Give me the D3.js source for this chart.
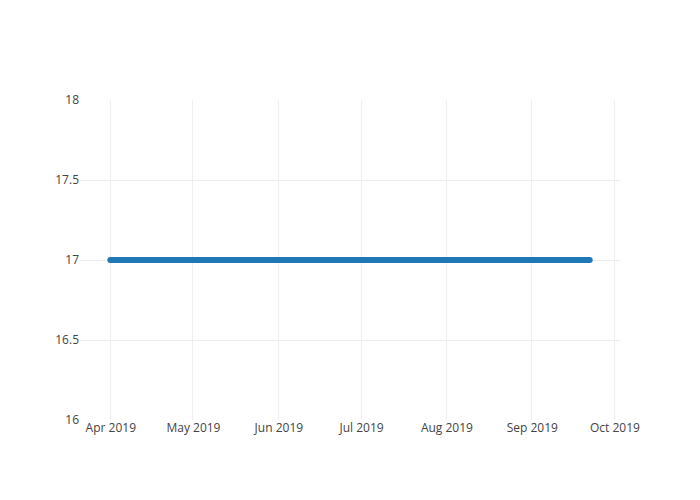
<!DOCTYPE html>
<html>
<head>
<meta charset="utf-8">
<script src="https://cdn.jsdelivr.net/npm/d3@7"></script>
<style>
  html, body { margin: 0; padding: 0; background: #fff; }
  svg { display: block; font-family: "Open Sans", sans-serif; }
</style>
</head>
<body>
<svg id="chart" width="700" height="500"></svg>
<script>
// Data: a constant value over the period
const dates = ["2019-04-01", "2019-09-22"];
const values = [17, 17];
const yTicks = [16, 16.5, 17, 17.5, 18];
const yTickLabels = ["16", "16.5", "17", "17.5", "18"];
const xTicks = ["2019-04-01", "2019-05-01", "2019-06-01", "2019-07-01", "2019-08-01", "2019-09-01", "2019-10-01"];
const xTickLabels = ["Apr 2019", "May 2019", "Jun 2019", "Jul 2019", "Aug 2019", "Sep 2019", "Oct 2019"];

(function () {
const parse = d3.utcParse("%Y-%m-%d");
const data = dates.map((d, i) => ({ date: parse(d), value: values[i] }));

const svg = d3.select("#chart");
const pLeft = 80, pRight = 620, pTop = 100, pBottom = 420;

const DAY = 864e5;
const x = d3.scaleUtc()
  .domain([new Date(+data[0].date - 11 * DAY), new Date(+data[data.length - 1].date + 11 * DAY)])
  .range([pLeft, pRight]);
const y = d3.scaleLinear().domain([16, 18]).range([pBottom, pTop]);

// grid
const g = svg.append("g");
g.selectAll(".vgrid").data(xTicks.map(parse)).enter().append("line")
  .attr("x1", d => x(d)).attr("x2", d => x(d))
  .attr("y1", pTop).attr("y2", pBottom)
  .attr("stroke", "#eee").attr("stroke-width", 1)
  .attr("shape-rendering", "crispEdges");
g.selectAll(".hgrid").data(yTicks.filter(t => t > 16 && t < 18)).enter().append("line")
  .attr("x1", pLeft).attr("x2", pRight)
  .attr("y1", d => y(d)).attr("y2", d => y(d))
  .attr("stroke", "#eee").attr("stroke-width", 1)
  .attr("shape-rendering", "crispEdges");

// axes labels
const yAxis = d3.axisLeft(y).tickValues(yTicks).tickFormat((d, i) => yTickLabels[i]).tickSize(0).tickPadding(1);
const ya = svg.append("g").attr("transform", `translate(${pLeft},0)`).call(yAxis);
ya.select(".domain").remove();
ya.selectAll("text").attr("fill", "#444").style("font-size", "12px").style("font-family", "'Open Sans', sans-serif");

const xAxis = d3.axisBottom(x).tickValues(xTicks.map(parse)).tickFormat((d, i) => xTickLabels[i]).tickSize(0).tickPadding(3);
const xa = svg.append("g").attr("transform", `translate(0,${pBottom})`).call(xAxis);
xa.select(".domain").remove();
xa.selectAll("text").attr("fill", "#444").style("font-size", "12px").style("font-family", "'Open Sans', sans-serif");

// line
const line = d3.line().x(d => x(d.date)).y(d => y(d.value));
svg.append("path").datum(data)
  .attr("d", line)
  .attr("fill", "none")
  .attr("stroke", "#1f77b4")
  .attr("stroke-width", 6)
  .attr("stroke-linecap", "round");
})();
</script>
</body>
</html>
